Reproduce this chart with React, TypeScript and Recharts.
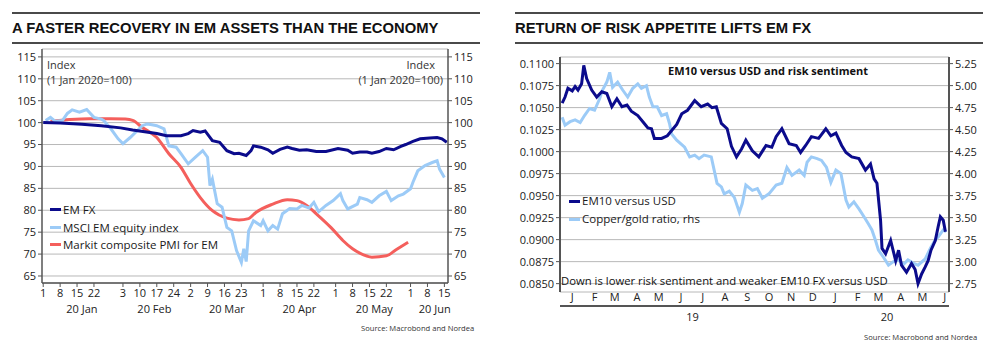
import { LineChart, Line, XAxis, YAxis, CartesianGrid, Legend } from 'recharts'

const FONT = '"Open Sans", "Noto Sans", sans-serif'
const TITLE_FONT = '"Liberation Sans", Arial, sans-serif'
const NAVY = '#0b0b8c'
const LIGHT = '#9ccbf7'
const RED = '#f45f5c'
const AXIS = '#555'
const GRID = '#b8b8b8'

// ---- left chart: days since 1 Jan 2020, index 1 Jan 2020 = 100
const emFxDays = [0, 7, 16, 24, 32, 37, 42, 47, 51, 57, 60, 62, 65, 67, 70, 73, 76, 79, 81, 84, 86, 87, 90, 93, 95, 98, 101, 103, 106, 109, 113, 117, 122, 126, 128, 131, 134, 136, 139, 142, 145, 148, 150, 153, 156, 160, 163, 165, 167]
const emFxVals = [100.0, 99.9, 99.6, 99.3, 98.8, 98.3, 97.9, 97.5, 97.0, 97.0, 97.5, 98.2, 97.8, 98.1, 95.9, 95.5, 93.6, 92.9, 93.0, 92.5, 93.6, 94.7, 94.4, 93.8, 93.0, 93.9, 94.4, 94.1, 93.7, 93.8, 93.4, 93.4, 94.1, 93.7, 93.0, 93.3, 93.3, 93.0, 93.4, 94.1, 93.8, 94.6, 95.0, 95.7, 96.3, 96.5, 96.6, 96.3, 95.5]

const msciDays = [1, 3, 5, 8, 10, 12, 15, 18, 21, 24, 25, 28, 31, 33, 36, 39, 41, 43, 45, 47, 50, 52, 55, 57, 60, 63, 66, 68, 69, 70, 72, 74, 76, 78, 80, 82, 83, 84, 85, 87, 90, 91, 93, 95, 97, 99, 102, 105, 107, 110, 112, 114, 117, 120, 123, 124, 126, 130, 131, 134, 136, 139, 142, 144, 147, 149, 152, 153, 155, 158, 161, 163, 164, 166]
const msciVals = [100.5, 101.2, 100.3, 100.5, 102.1, 102.9, 102.4, 103.0, 101.2, 100.8, 100.5, 98.6, 96.3, 95.2, 96.6, 98.2, 99.3, 99.7, 99.5, 99.3, 98.6, 94.7, 94.4, 92.9, 90.6, 92.1, 93.6, 92.1, 85.6, 87.1, 81.5, 80.7, 76.1, 75.3, 70.8, 68.1, 71.2, 68.3, 75.3, 77.6, 76.5, 77.6, 75.3, 76.5, 75.7, 79.2, 80.4, 80.3, 81.1, 80.5, 81.8, 79.7, 81.1, 82.2, 83.8, 82.2, 80.3, 81.4, 82.9, 82.4, 81.8, 83.3, 84.3, 82.2, 83.3, 83.7, 84.9, 86.4, 89.0, 90.2, 90.9, 91.3, 89.4, 87.5]

const pmiDays = [3, 11, 19, 28, 34, 37, 41, 47, 52, 57, 61, 65, 70, 76, 81, 85, 88, 95, 101, 105, 109, 113, 119, 124, 128, 131, 136, 142, 146, 151]
const pmiVals = [100.3, 100.7, 100.9, 100.9, 100.8, 100.5, 98.9, 96.6, 92.9, 89.8, 86.1, 82.9, 79.9, 78.2, 77.8, 78.1, 79.5, 81.4, 82.4, 82.2, 81.1, 79.2, 76.1, 73.1, 71.2, 70.2, 69.3, 69.6, 71.0, 72.7]

const indexTicks = [65, 70, 75, 80, 85, 90, 95, 100, 105, 110, 115]
const dayTicks = [0, 7, 14, 21, 33, 40, 47, 54, 61, 68, 75, 82, 91, 98, 105, 112, 121, 128, 135, 142, 152, 159, 166]
const dayLabels = ['1', '8', '15', '22', '3', '10', '17', '24', '2', '9', '16', '23', '1', '8', '15', '22', '1', '8', '15', '22', '1', '8', '15']
const monthMids = [16, 46, 76, 106, 137, 162]
const monthNames = ['20 Jan', '20 Feb', '20 Mar', '20 Apr', '20 May', '20 Jun']

// ---- right chart: days since 1 Jan 2019
const em10Days = [0, 4, 8, 14, 18, 22, 27, 30, 34, 41, 48, 55, 62, 69, 76, 83, 90, 96, 105, 114, 119, 124, 128, 138, 146, 152, 159, 166, 174, 184, 193, 202, 208, 214, 221, 229, 235, 242, 249, 255, 264, 273, 283, 291, 297, 305, 315, 325, 331, 338, 346, 356, 366, 373, 380, 388, 394, 402, 412, 421, 428, 433, 437, 442, 444, 449, 456, 463, 467, 471, 478, 485, 490, 494, 499, 504, 508, 512, 518, 522, 525, 529, 532]
const em10Vals = [0.1055, 0.1062, 0.1072, 0.1069, 0.1074, 0.1070, 0.1077, 0.1098, 0.1083, 0.1070, 0.1062, 0.1068, 0.1066, 0.1051, 0.1060, 0.1051, 0.1053, 0.1046, 0.1041, 0.1032, 0.1027, 0.1026, 0.1015, 0.1015, 0.1018, 0.1024, 0.1031, 0.1043, 0.1047, 0.1058, 0.1051, 0.1054, 0.1050, 0.1051, 0.1032, 0.1026, 0.1006, 0.0994, 0.1003, 0.1013, 0.1001, 0.0994, 0.1007, 0.1005, 0.1017, 0.1026, 0.1009, 0.1007, 0.0999, 0.1007, 0.1017, 0.1015, 0.1026, 0.1018, 0.1021, 0.1007, 0.0999, 0.0994, 0.0992, 0.0979, 0.0986, 0.0969, 0.0964, 0.0922, 0.0890, 0.0884, 0.0899, 0.0876, 0.0888, 0.0871, 0.0863, 0.0873, 0.0866, 0.0850, 0.0861, 0.0869, 0.0876, 0.0888, 0.0899, 0.0915, 0.0926, 0.0922, 0.0909]

const cgDays = [0, 4, 11, 18, 25, 31, 38, 45, 52, 56, 62, 66, 70, 77, 84, 91, 98, 105, 110, 117, 121, 126, 132, 138, 145, 149, 152, 159, 170, 177, 184, 190, 197, 207, 211, 215, 221, 225, 232, 239, 246, 250, 255, 264, 271, 278, 287, 297, 305, 312, 319, 329, 336, 340, 346, 354, 360, 367, 373, 380, 387, 394, 398, 405, 412, 419, 425, 430, 435, 439, 446, 453, 460, 467, 474, 480, 488, 494, 504, 511, 518, 522, 529, 533]
const cgVals = [4.64, 4.55, 4.59, 4.61, 4.58, 4.66, 4.74, 4.72, 4.85, 4.95, 5.04, 5.15, 4.98, 5.04, 4.95, 4.87, 4.97, 5.02, 4.97, 5.00, 4.87, 4.76, 4.76, 4.66, 4.68, 4.57, 4.45, 4.38, 4.30, 4.19, 4.21, 4.17, 4.21, 4.19, 4.04, 3.89, 3.85, 3.77, 3.80, 3.73, 3.56, 3.66, 3.87, 3.81, 3.83, 3.72, 3.77, 3.87, 3.89, 4.07, 3.98, 4.04, 3.98, 4.13, 4.19, 4.17, 4.15, 4.07, 3.90, 4.04, 4.00, 3.70, 3.62, 3.68, 3.60, 3.51, 3.43, 3.36, 3.24, 3.13, 3.05, 2.96, 3.00, 3.02, 2.97, 3.02, 2.98, 2.96, 3.03, 3.15, 3.25, 3.28, 3.36, 3.34]

const fxTicks = [0.085, 0.0875, 0.09, 0.0925, 0.095, 0.0975, 0.1, 0.1025, 0.105, 0.1075, 0.11]
const cgTicks = [2.75, 3.0, 3.25, 3.5, 3.75, 4.0, 4.25, 4.5, 4.75, 5.0, 5.25]
const monthStarts = [0, 31, 59, 90, 120, 151, 181, 212, 243, 273, 304, 334, 365, 396, 425, 456, 486, 517]
const monthMidDays = [14, 45, 73, 104, 134, 165, 195, 226, 257, 287, 318, 348, 379, 410, 439, 470, 500, 531]
const monthLetters = ['J', 'F', 'M', 'A', 'M', 'J', 'J', 'A', 'S', 'O', 'N', 'D', 'J', 'F', 'M', 'A', 'M', 'J']
const yearMids = [181, 451]
const yearNames = ['19', '20']

const zip = (days: number[], vals: number[]) => days.map((d, i) => ({ d, v: vals[i] }))

const tickStyle = { fill: '#222', fontSize: 11, fontFamily: FONT }

function LegendBox({ payload, order, gap }: any) {
  const items = [...(payload || [])].sort((a: any, b: any) => order.indexOf(a.value) - order.indexOf(b.value))
  return (
    <div style={{ fontFamily: FONT, fontSize: 11.5, color: '#1a1a1a', lineHeight: `${gap}px`, whiteSpace: 'nowrap' }}>
      {items.map((p: any) => (
        <div key={p.value} style={{ display: 'flex', alignItems: 'center' }}>
          <span style={{ display: 'inline-block', width: 11, height: 3, background: p.color, marginRight: 2 }} />
          <span>{p.value}</span>
        </div>
      ))}
    </div>
  )
}

function Header({ left, width, text }: { left: number; width: number; text: string }) {
  return (
    <>
      <div style={{ position: 'absolute', left, top: 12, width, height: 1.5, background: '#4a4a4a' }} />
      <div style={{ position: 'absolute', left, top: 19.5, fontFamily: TITLE_FONT, fontWeight: 700, fontSize: 14.8, lineHeight: '17px', color: '#111', whiteSpace: 'nowrap' }}>{text}</div>
      <div style={{ position: 'absolute', left, top: 42, width, height: 1.8, background: '#4a4a4a' }} />
    </>
  )
}

const note = (pos: any, text: string, extra: any = {}) => (
  <div style={{ position: 'absolute', ...pos, fontFamily: FONT, fontSize: 11, lineHeight: '14px', color: '#333', whiteSpace: 'nowrap', ...extra }}>{text}</div>
)

function EmAssetsChart() {
  return (
    <div style={{ position: 'absolute', left: 0, top: 0, width: 490, height: 343 }}>
      <LineChart width={490} height={343} margin={{ top: 49, right: 0, bottom: 24, left: 0 }}>
        <CartesianGrid xAxisId="d" yAxisId="l" vertical={false} stroke={GRID} />
        <XAxis xAxisId="d" dataKey="d" type="number" domain={[-0.5, 167.5]} allowDataOverflow ticks={dayTicks} interval={0}
          tickFormatter={(v: number) => dayLabels[dayTicks.indexOf(v)]} height={16} tickSize={4} tickMargin={2}
          tick={tickStyle} axisLine={{ stroke: AXIS, strokeWidth: 1.5 }} tickLine={{ stroke: AXIS }} />
        <XAxis xAxisId="m" dataKey="d" type="number" domain={[-0.5, 167.5]} allowDataOverflow ticks={monthMids} interval={0}
          tickFormatter={(v: number) => monthNames[monthMids.indexOf(v)]} height={20} tickSize={0} tickMargin={6}
          tick={tickStyle} axisLine={false} tickLine={false} />
        <YAxis yAxisId="l" domain={[63.4, 116.8]} allowDataOverflow ticks={indexTicks} interval={0} width={42} tickSize={4}
          tick={tickStyle} axisLine={{ stroke: AXIS, strokeWidth: 1.5 }} tickLine={{ stroke: AXIS }} />
        <YAxis yAxisId="r" orientation="right" domain={[63.4, 116.8]} allowDataOverflow ticks={indexTicks} interval={0} width={42} tickSize={4}
          tick={tickStyle} axisLine={{ stroke: AXIS, strokeWidth: 1.5 }} tickLine={{ stroke: AXIS }} />
        <Line xAxisId="d" yAxisId="l" data={zip(pmiDays, pmiVals)} dataKey="v" name="Markit composite PMI for EM" type="monotone"
          stroke={RED} strokeWidth={3} dot={false} isAnimationActive={false} />
        <Line xAxisId="d" yAxisId="l" data={zip(msciDays, msciVals)} dataKey="v" name="MSCI EM equity index"
          stroke={LIGHT} strokeWidth={3} dot={false} isAnimationActive={false} />
        <Line xAxisId="d" yAxisId="l" data={zip(emFxDays, emFxVals)} dataKey="v" name="EM FX"
          stroke={NAVY} strokeWidth={3} dot={false} isAnimationActive={false} />
        <Legend layout="vertical" align="center" verticalAlign="middle" wrapperStyle={{ left: 50, top: 201, width: 'auto' }}
          content={<LegendBox order={['EM FX', 'MSCI EM equity index', 'Markit composite PMI for EM']} gap={17.5} />} />
      </LineChart>
      {note({ left: 47, top: 58 }, 'Index')}
      {note({ left: 47, top: 73 }, '(1 Jan 2020=100)')}
      {note({ right: 55, top: 58 }, 'Index', { textAlign: 'right' })}
      {note({ right: 47, top: 73 }, '(1 Jan 2020=100)', { textAlign: 'right' })}
    </div>
  )
}

function RiskChart() {
  return (
    <div style={{ position: 'absolute', left: 490, top: 0, width: 500, height: 343 }}>
      <LineChart width={500} height={343} margin={{ top: 57, right: 0, bottom: 17, left: 0 }}>
        <CartesianGrid xAxisId="t" yAxisId="l" vertical={false} stroke={GRID} />
        <XAxis xAxisId="t" dataKey="d" type="number" domain={[-3, 537]} allowDataOverflow ticks={monthStarts} interval={0}
          tick={false} height={4} tickSize={4} axisLine={{ stroke: AXIS, strokeWidth: 2 }} tickLine={{ stroke: AXIS }} />
        <XAxis xAxisId="m" dataKey="d" type="number" domain={[-3, 537]} allowDataOverflow ticks={monthMidDays} interval={0}
          tickFormatter={(v: number) => monthLetters[monthMidDays.indexOf(v)]} height={14} tickSize={0} tickMargin={1}
          tick={tickStyle} axisLine={false} tickLine={false} />
        <XAxis xAxisId="y" dataKey="d" type="number" domain={[-3, 537]} allowDataOverflow ticks={yearMids} interval={0}
          tickFormatter={(v: number) => yearNames[yearMids.indexOf(v)]} height={16} tickSize={0} tickMargin={3}
          tick={tickStyle} axisLine={false} tickLine={false} />
        <YAxis yAxisId="l" domain={[0.08405, 0.11075]} allowDataOverflow ticks={fxTicks} interval={0} width={70} tickSize={4}
          tickFormatter={(v: number) => v.toFixed(4)} tick={tickStyle} axisLine={{ stroke: AXIS, strokeWidth: 2 }} tickLine={{ stroke: AXIS }} />
        <YAxis yAxisId="r" orientation="right" domain={[2.655, 5.325]} allowDataOverflow ticks={cgTicks} interval={0} width={41} tickSize={4}
          tickFormatter={(v: number) => v.toFixed(2)} tick={tickStyle} axisLine={{ stroke: AXIS, strokeWidth: 2 }} tickLine={{ stroke: AXIS }} />
        <Line xAxisId="t" yAxisId="r" data={zip(cgDays, cgVals)} dataKey="v" name="Copper/gold ratio, rhs"
          stroke={LIGHT} strokeWidth={3} dot={false} isAnimationActive={false} />
        <Line xAxisId="t" yAxisId="l" data={zip(em10Days, em10Vals)} dataKey="v" name="EM10 versus USD"
          stroke={NAVY} strokeWidth={3} dot={false} isAnimationActive={false} />
        <Legend layout="vertical" align="center" verticalAlign="middle" wrapperStyle={{ left: 79, top: 192, width: 'auto' }}
          content={<LegendBox order={['EM10 versus USD', 'Copper/gold ratio, rhs']} gap={18} />} />
      </LineChart>
      <div style={{ position: 'absolute', left: 178, top: 64, fontFamily: FONT, fontWeight: 700, fontSize: 11, lineHeight: '14px', color: '#111', whiteSpace: 'nowrap' }}>
        EM10 versus USD and risk sentiment
      </div>
      {note({ left: 71, top: 274 }, 'Down is lower risk sentiment and weaker EM10 FX versus USD', { fontSize: 11.3, color: '#111' })}
    </div>
  )
}

export default function App() {
  return (
    <div style={{ position: 'absolute', left: 0, top: 0, width: 990, height: 343, background: '#fff', overflow: 'hidden' }}>
      <Header left={12} width={468} text="A FASTER RECOVERY IN EM ASSETS THAN THE ECONOMY" />
      <Header left={515} width={468} text="RETURN OF RISK APPETITE LIFTS EM FX" />
      <EmAssetsChart />
      <RiskChart />
      <div style={{ position: 'absolute', left: 361, top: 323, fontFamily: FONT, fontSize: 7.6, lineHeight: '10px', color: '#333', whiteSpace: 'nowrap' }}>Source: Macrobond and Nordea</div>
      <div style={{ position: 'absolute', left: 864, top: 332, fontFamily: FONT, fontSize: 7.6, lineHeight: '10px', color: '#333', whiteSpace: 'nowrap' }}>Source: Macrobond and Nordea</div>
    </div>
  )
}
